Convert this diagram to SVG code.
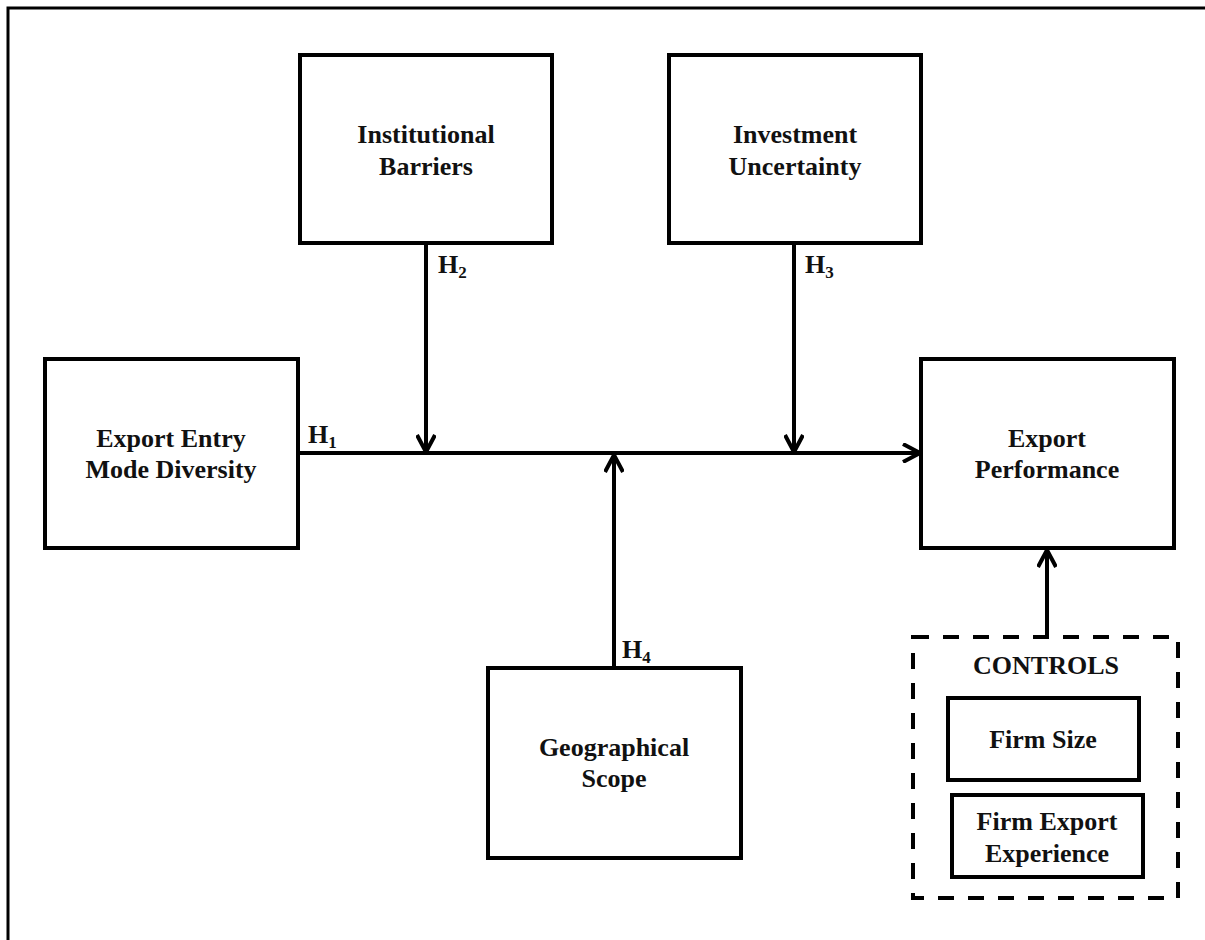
<svg xmlns="http://www.w3.org/2000/svg" width="1205" height="940" viewBox="0 0 1205 940">
  <defs>
    <style>
      .box { fill: #fff; stroke: #000; stroke-width: 4; }
      .dash { fill: none; stroke: #000; stroke-width: 4; stroke-dasharray: 16 14; }
      .lbl { font-family: "Liberation Serif", "Times New Roman", serif; font-weight: bold; font-size: 26px; fill: #111; text-anchor: middle; }
      .h { font-family: "Liberation Serif", "Times New Roman", serif; font-weight: bold; font-size: 26px; fill: #111; }
      .sub { font-size: 17px; }
      .conn { fill: none; stroke: #000; stroke-width: 4; }
      .frame { fill: none; stroke: #000; stroke-width: 3; }
    </style>
    <marker id="arr" viewBox="0 0 20 20" refX="18" refY="10" markerWidth="20" markerHeight="20" markerUnits="userSpaceOnUse" orient="auto">
      <path d="M1,1 L18,10 L1,19" fill="none" stroke="#000" stroke-width="4"/>
    </marker>
  </defs>
  <rect width="1205" height="940" fill="#fff"/>
  <path class="frame" d="M8,940 L8,8 L1205,8"/>

  <g id="institutional-barriers">
    <rect class="box" x="300" y="55" width="252" height="188"/>
    <text class="lbl" x="426" y="143">Institutional</text>
    <text class="lbl" x="426" y="175">Barriers</text>
  </g>
  <g id="investment-uncertainty">
    <rect class="box" x="669" y="55" width="252" height="188"/>
    <text class="lbl" x="795" y="143">Investment</text>
    <text class="lbl" x="795" y="175">Uncertainty</text>
  </g>
  <g id="export-entry-mode-diversity">
    <rect class="box" x="45" y="359" width="253" height="189"/>
    <text class="lbl" x="171" y="447">Export Entry</text>
    <text class="lbl" x="171" y="478">Mode Diversity</text>
  </g>
  <g id="export-performance">
    <rect class="box" x="921" y="359" width="253" height="189"/>
    <text class="lbl" x="1047" y="447">Export</text>
    <text class="lbl" x="1047" y="478">Performance</text>
  </g>
  <g id="geographical-scope">
    <rect class="box" x="488" y="668" width="253" height="190"/>
    <text class="lbl" x="614" y="756">Geographical</text>
    <text class="lbl" x="614" y="787">Scope</text>
  </g>
  <g id="controls">
    <rect class="dash" x="913" y="637" width="265" height="261"/>
    <text class="lbl" x="1046" y="674">CONTROLS</text>
    <g id="firm-size">
      <rect class="box" x="948" y="698" width="191" height="82"/>
      <text class="lbl" x="1043" y="748">Firm Size</text>
    </g>
    <g id="firm-export-experience">
      <rect class="box" x="952" y="795" width="191" height="82"/>
      <text class="lbl" x="1047" y="830">Firm Export</text>
      <text class="lbl" x="1047" y="862">Experience</text>
    </g>
  </g>

  <g id="connectors">
    <line class="conn" x1="298" y1="453" x2="920" y2="453" marker-end="url(#arr)"/>
    <line class="conn" x1="426" y1="243" x2="426" y2="452" marker-end="url(#arr)"/>
    <line class="conn" x1="794" y1="243" x2="794" y2="452" marker-end="url(#arr)"/>
    <line class="conn" x1="614" y1="668" x2="614" y2="455" marker-end="url(#arr)"/>
    <line class="conn" x1="1047" y1="637" x2="1047" y2="550" marker-end="url(#arr)"/>
    <text class="h" x="308" y="443">H<tspan class="sub" dy="5">1</tspan></text>
    <text class="h" x="438" y="273">H<tspan class="sub" dy="5">2</tspan></text>
    <text class="h" x="805" y="273">H<tspan class="sub" dy="5">3</tspan></text>
    <text class="h" x="622" y="658">H<tspan class="sub" dy="5">4</tspan></text>
  </g>
</svg>
